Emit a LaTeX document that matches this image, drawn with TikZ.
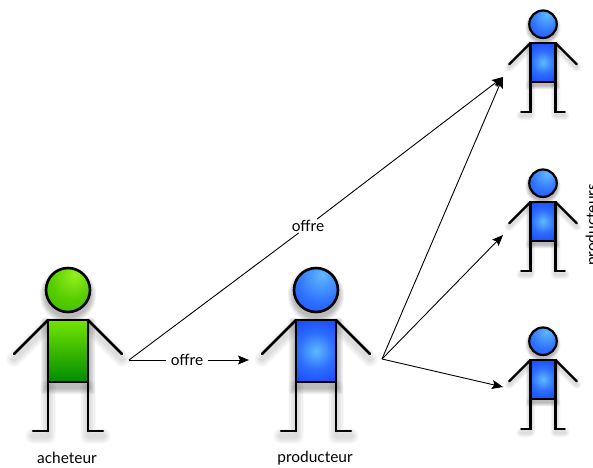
\documentclass[tikz,border=0pt]{standalone}
\usepackage{fontspec}
\setmainfont{Lato}
\usetikzlibrary{arrows.meta}
\definecolor{gcen}{RGB}{150,238,30}
\definecolor{gmid}{RGB}{85,205,0}
\definecolor{gedge}{RGB}{45,170,0}
\definecolor{gtop}{RGB}{115,228,0}
\definecolor{gbot}{RGB}{0,140,0}
\definecolor{bcen}{RGB}{95,185,255}
\definecolor{bmid}{RGB}{45,110,255}
\definecolor{bout}{RGB}{22,58,248}
\pgfdeclareradialshading{greenball}{\pgfpoint{7bp}{18bp}}{color(0bp)=(gcen);color(25bp)=(gmid);color(60bp)=(gedge);color(100bp)=(gedge)}
\pgfdeclareradialshading{blueball}{\pgfpoint{7bp}{18bp}}{color(0bp)=(bcen);color(28bp)=(bmid);color(62bp)=(bout);color(100bp)=(bout)}
\pgfdeclareradialshading{bluebody}{\pgfpointorigin}{color(0bp)=(bcen);color(12bp)=(bmid);color(27bp)=(bout);color(50bp)=(bout)}
\tikzset{
  x=1bp,y=-1bp,
  link/.style={draw=black,line width=0.9bp},
  linkarrow/.style={link,-{Stealth[length=11bp,width=9bp,inset=2bp]}},
  lbl/.style={font=\fontsize{15.5}{18}\selectfont,text=black,inner sep=1bp},
}
% #1 x, #2 y (top-centre of body), #3 scale, #4 head shading, #5 body fill, #6 line width
\newcommand{\figshape}[6]{%
  \begin{scope}[shift={(#1,#2)},scale=#3]
    \begin{scope}[shift={(0,5)}]
      \foreach \w in {16,14,12,10,8,6,4}{
        \draw[black,opacity=0.02,line width=\w*#3 bp,line cap=round,line join=round]
          (-20,0)--(-54,34) (20,0)--(54,34) (-20,62)--(-20,111)--(-35,111) (20,62)--(20,111)--(35,111);
        \fill[black,opacity=0.045] (0,-30) circle ({21+\w*0.45});
        \fill[black,opacity=0.045,rounded corners=2] ({-20-\w*0.45},{-\w*0.45}) rectangle ({20+\w*0.45},{62+\w*0.45});
      }
    \end{scope}
    \draw[black,line width=#6,line cap=round] (-20,0)--(-54,34);
    \draw[black,line width=#6,line cap=round] (20,0)--(54,34);
    \draw[black,line width=#6,line cap=round,line join=miter] (-20,62)--(-20,111)--(-35,111);
    \draw[black,line width=#6,line cap=round,line join=miter] (20,62)--(20,111)--(35,111);
    \path[shading=#4] (0,-30) circle (22);
    \draw[black,line width=#6] (0,-30) circle (22);
    #5
    \draw[black,line width=#6,line join=miter] (-20,0) rectangle (20,62);
  \end{scope}}
\newcommand{\bluefill}{\begin{scope}\clip (-20,0) rectangle (20,62);\path[shading=bluebody] (0,31) circle (38);\end{scope}}
\begin{document}
\begin{tikzpicture}
\useasboundingbox (0,0) rectangle (593,468);
\clip (0,0) rectangle (593,468);
\figshape{68}{320}{1}{greenball}{\shade[top color=gtop,bottom color=gbot] (-20,0) rectangle (20,62);}{2.6bp}
\figshape{316}{320}{1}{blueball}{\bluefill}{2.6bp}
\figshape{543}{43}{0.625}{blueball}{\bluefill}{2.2bp}
\figshape{543}{202}{0.625}{blueball}{\bluefill}{2.2bp}
\figshape{543}{360}{0.625}{blueball}{\bluefill}{2.2bp}
\coordinate (buyer) at (129,360);
\coordinate (prod) at (382,359);
\coordinate (t1) at (503,77);
\coordinate (t2) at (503,235);
\coordinate (t3) at (503,387);
\coordinate (pin) at (249,360);
\node[lbl,fill=white] (o1) at (308,226) {offre};
\node[lbl,fill=white,inner xsep=5bp] (o2) at (187,360) {offre};
\draw[link] (buyer) -- (o2);
\draw[linkarrow] (o2) -- (pin);
\draw[link] (buyer) -- (o1);
\draw[linkarrow] (o1) -- (t1);
\draw[linkarrow] (prod) -- (t1);
\draw[linkarrow] (prod) -- (t2);
\draw[linkarrow] (prod) -- (t3);
\node[lbl] (a) at (67,458) {acheteur};
\node[lbl] (p) at (315,458) {producteur};
\node[lbl,rotate=90,anchor=base] (ps) at (597,225) {producteurs};
\end{tikzpicture}
\end{document}
